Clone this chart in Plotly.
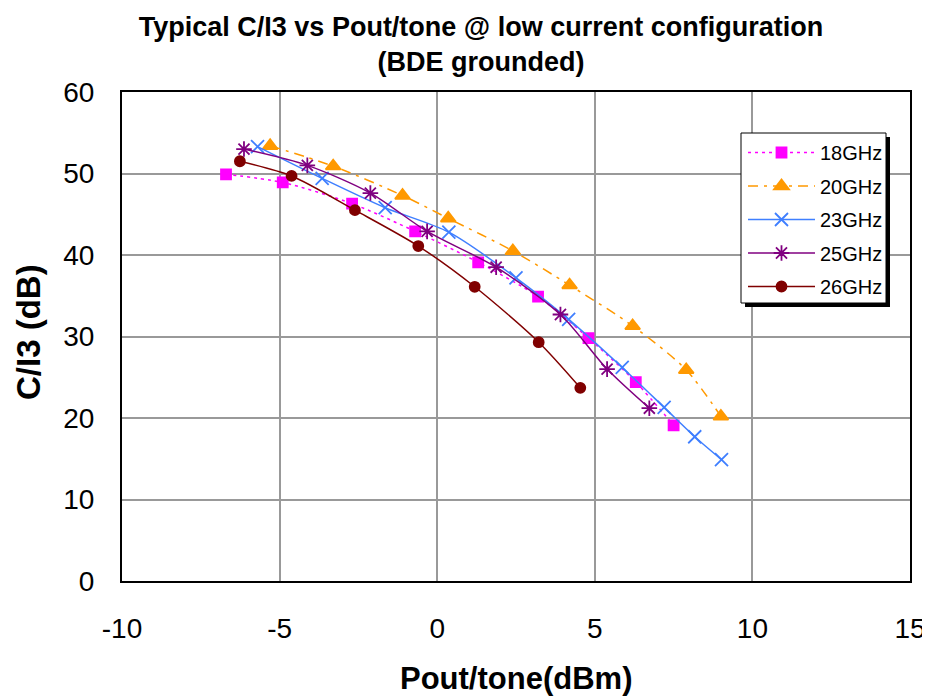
import plotly.graph_objects as go

# ---- data ----
series_names = ["18GHz", "20GHz", "23GHz", "25GHz", "26GHz"]

pout_18 = [-6.7, -4.9, -2.7, -0.7, 1.3, 3.2, 4.8, 6.3, 7.5]
ci3_18 = [49.9, 48.9, 46.3, 42.9, 39.1, 34.9, 29.8, 24.4, 19.1]

pout_20 = [-5.3, -3.3, -1.1, 0.35, 2.4, 4.2, 6.2, 7.9, 9.0]
ci3_20 = [53.4, 50.9, 47.3, 44.5, 40.5, 36.3, 31.3, 25.9, 20.2]

pout_23 = [-5.7, -3.65, -1.65, 0.37, 2.5, 4.17, 5.87, 7.2, 8.17, 9.02]
ci3_23 = [53.3, 49.4, 45.8, 42.8, 37.2, 32.1, 26.2, 21.3, 17.7, 14.9]

pout_25 = [-6.13, -4.12, -2.12, -0.32, 1.87, 3.91, 5.39, 6.73]
ci3_25 = [53.0, 51.0, 47.6, 42.9, 38.5, 32.7, 26.0, 21.2]

pout_26 = [-6.26, -4.62, -2.61, -0.6, 1.19, 3.22, 4.54]
ci3_26 = [51.5, 49.7, 45.5, 41.1, 36.1, 29.3, 23.7]

x_ticks = [-10, -5, 0, 5, 10, 15]
y_ticks = [0, 10, 20, 30, 40, 50, 60]

title_lines = ["Typical C/I3 vs Pout/tone @ low current configuration", "(BDE grounded)"]
x_title = "Pout/tone(dBm)"
y_title = "C/I3 (dB)"

FONT = "Arial, Liberation Sans, sans-serif"

# ---- geometry: the page has an 8px body margin, so the figure is 8px smaller ----
OFF = 8
W, H = 930 - OFF, 696 - OFF
PL, PR, PT, PB = 122, 910, 92, 581          # plot area in page pixels
L, R, T, B = PL - OFF, (W + OFF) - PR, PT - OFF, (H + OFF) - PB
PW, PH = W - L - R, H - T - B


def px_x(p):  # page pixel -> paper x
    return (p - PL) / PW


def px_y(p):  # page pixel -> paper y
    return (PB - p) / PH


styles = [
    dict(color="#FF00FF", dash="3px,4px", symbol="square", size=10, lw=1.5),
    dict(color="#FF9900", dash="10px,6px,3px,6px", symbol="triangle-up", size=13, lw=1.5),
    dict(color="#3F7FFF", dash="solid", symbol="x-thin-open", size=13, lw=1.5),
    dict(color="#800080", dash="solid", symbol="asterisk-open", size=13, lw=1.5),
    dict(color="#800000", dash="solid", symbol="circle", size=10, lw=1.5),
]

xs = [pout_18, pout_20, pout_23, pout_25, pout_26]
ys = [ci3_18, ci3_20, ci3_23, ci3_25, ci3_26]

fig = go.Figure()
for name, x, y, st in zip(series_names, xs, ys, styles):
    fig.add_trace(go.Scatter(
        x=x, y=y, name=name, mode="lines+markers",
        legendgroup=name,
        line=dict(color=st["color"], dash=st["dash"], width=st["lw"],
                  shape="spline", smoothing=0.8),
        marker=dict(symbol=st["symbol"], size=st["size"], color=st["color"],
                    line=dict(color=st["color"], width=1.8)),
    ))

# legend box + shadow as shapes
lx0, lx1, ly0, ly1 = 741, 886, 133, 303
sh = 4
fig.add_shape(type="rect", xref="paper", yref="paper",
              x0=px_x(lx0 + sh), x1=px_x(lx1 + sh), y0=px_y(ly1 + sh), y1=px_y(ly0 + sh),
              fillcolor="black", line=dict(width=0), layer="above")
fig.add_shape(type="rect", xref="paper", yref="paper",
              x0=px_x(lx0), x1=px_x(lx1), y0=px_y(ly1), y1=px_y(ly0),
              fillcolor="white", line=dict(color="black", width=1), layer="above")

title_html = "<br>".join("<b>" + t + "</b>" for t in title_lines)

fig.update_layout(
    width=W, height=H,
    margin=dict(l=L, r=R, t=T, b=B, autoexpand=False),
    paper_bgcolor="white", plot_bgcolor="white",
    font=dict(family=FONT, color="black"),
    title=dict(text=title_html,
               x=(481 - OFF) / W, xanchor="center", xref="container",
               y=1 - 27.5 / H, yanchor="middle", yref="container",
               font=dict(size=27, family=FONT, color="black")),
    showlegend=True,
    legend=dict(x=px_x(lx0 + 2), y=px_y(ly0), xanchor="left", yanchor="top",
                bgcolor="rgba(0,0,0,0)", borderwidth=0,
                font=dict(size=20, family=FONT, color="black"),
                traceorder="grouped", tracegroupgap=4.5, itemwidth=67),
    xaxis=dict(range=[-10, 15], tickvals=x_ticks, ticktext=[str(v) for v in x_ticks],
               showgrid=True, gridcolor="#999999", gridwidth=1.5,
               showline=True, linecolor="black", linewidth=2, mirror=True,
               zeroline=False, ticks="", ticklabelstandoff=21,
               tickfont=dict(size=28, family=FONT, color="black")),
    yaxis=dict(range=[0, 60], tickvals=y_ticks, ticktext=[str(v) for v in y_ticks],
               showgrid=True, gridcolor="#999999", gridwidth=1.5,
               showline=True, linecolor="black", linewidth=2, mirror=True,
               zeroline=False, ticks="", ticklabelstandoff=20,
               tickfont=dict(size=28, family=FONT, color="black")),
    annotations=[
        dict(text="<b>" + x_title + "</b>", xref="paper", yref="paper",
             x=px_x(516), y=px_y(679), xanchor="center", yanchor="middle",
             showarrow=False, font=dict(size=31, family=FONT, color="black")),
        dict(text="<b>" + y_title + "</b>", xref="paper", yref="paper",
             x=px_x(28), y=px_y(332), xanchor="center", yanchor="middle",
             textangle=-90, showarrow=False,
             font=dict(size=33, family=FONT, color="black")),
    ],
)

fig.write_html("out.html")
